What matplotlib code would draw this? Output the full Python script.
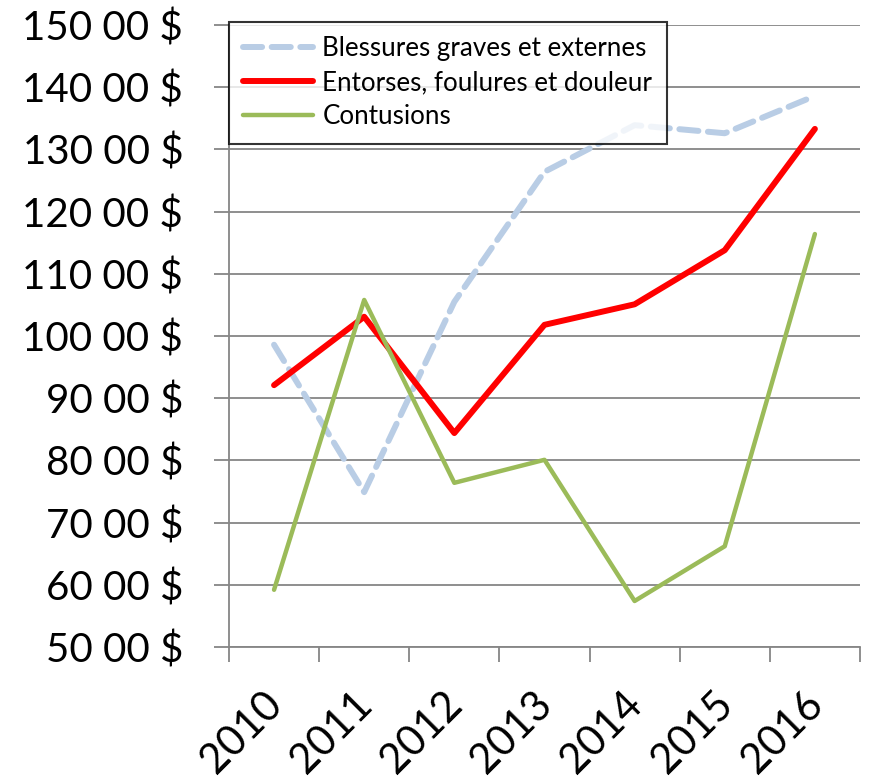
import matplotlib.pyplot as plt
import numpy as np

plt.rcParams['font.family'] = ['Lato', 'DejaVu Sans']

years = ['2010', '2011', '2012', '2013', '2014', '2015', '2016']
blessures = [98.6, 74.9, 105.5, 126.4, 133.9, 132.6, 138.6]
entorses = [92.1, 103.1, 84.4, 101.8, 105.1, 113.8, 133.3]
contusions = [59.2, 105.8, 76.4, 80.1, 57.4, 66.2, 116.4]
yticks = list(range(50, 151, 10))
ylabels = ['%d 00 $' % v for v in yticks]

fig = plt.figure(figsize=(8.69, 7.82), dpi=100)
ax = fig.add_axes([0.2635, 0.1726, 0.7261, 0.7954])

x = np.arange(len(years))
ax.plot(x, blessures, color='#b9cde5', lw=4.3, dashes=(3.2, 1.6),
        solid_capstyle='round', dash_capstyle='round',
        label='Blessures graves et externes')
ax.plot(x, entorses, color='#ff0000', lw=4.3, solid_capstyle='round',
        label='Entorses, foulures et douleur')
ax.plot(x, contusions, color='#9bbb59', lw=3.2, solid_capstyle='round',
        label='Contusions')

ax.set_xlim(-0.5, len(years) - 0.5)
ax.set_ylim(50, 150)
ax.set_yticks(yticks)
ax.set_yticklabels(ylabels, fontsize=29)
ax.yaxis.grid(True, color='#868686', lw=1.3)
ax.set_axisbelow(True)

# category boundaries get the tick marks, labels sit between them
ax.set_xticks(np.arange(len(years) + 1) - 0.5)
ax.set_xticklabels([])
for i, yr in enumerate(years):
    ax.annotate(yr, xy=(i, 0), xycoords=('data', 'axes fraction'),
                xytext=(-8.5, -27), textcoords='offset points',
                fontsize=30, rotation=45, ha='right', va='top',
                rotation_mode='anchor', annotation_clip=False)
ax.tick_params(axis='x', which='major', length=11, width=1.3, color='#868686')
ax.tick_params(axis='y', length=11, width=1.3, color='#868686', pad=22)

for s in ['top', 'right']:
    ax.spines[s].set_visible(False)
for s in ['left', 'bottom']:
    ax.spines[s].set_color('#868686')
    ax.spines[s].set_linewidth(1.3)

leg = ax.legend(loc='upper left', bbox_to_anchor=(0.0, 1.005), fontsize=18.7,
                frameon=True, fancybox=False, edgecolor='black',
                borderaxespad=0, handlelength=2.7, handletextpad=0.35,
                labelspacing=0.35, borderpad=0.55)
leg.get_frame().set_linewidth(1.5)

plt.savefig('out.png', dpi=100)
plt.close()
